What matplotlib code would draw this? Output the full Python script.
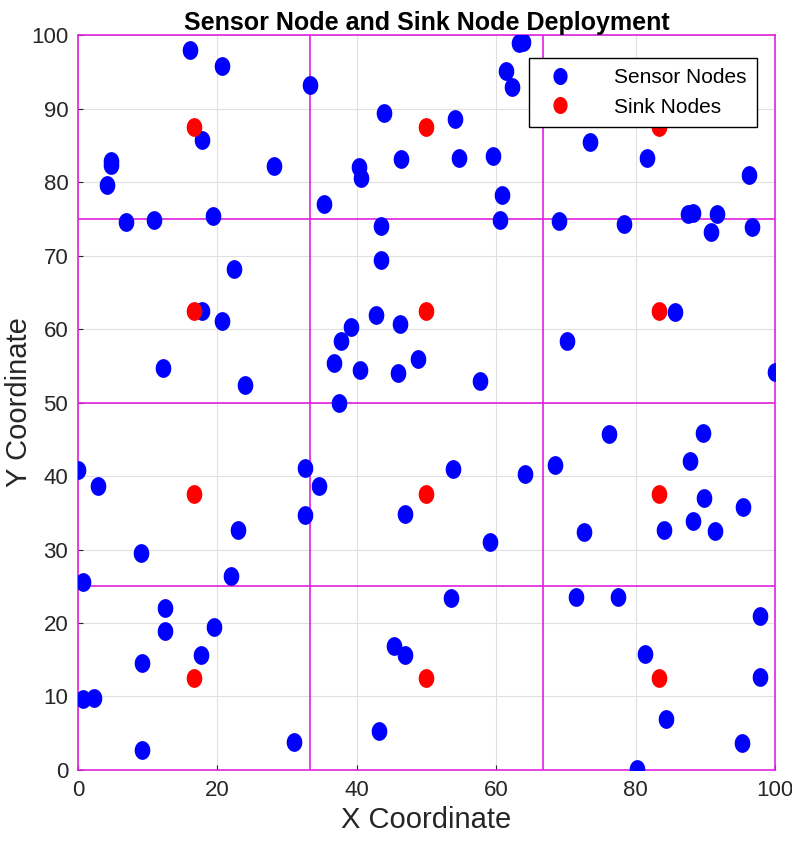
import matplotlib
matplotlib.use("Agg")
import matplotlib.pyplot as plt
import numpy as np

sensor_x = [16.1,20.7,33.3,4.2,4.7,4.7,17.8,6.9,10.9,19.4,28.1,35.3,40.3,40.6,43.9,46.3,43.5,43.5,54.1,54.7,59.6,60.8,61.4,62.3,63.3,63.9,60.5,73.5,69.0,78.3,81.6,87.5,88.2,91.7,90.8,96.3,96.7,
            22.4,17.8,20.7,12.2,24.0,39.2,37.7,36.7,37.5,42.8,40.5,46.2,45.9,48.8,57.7,70.2,85.7,100.0,
            0.0,2.9,0.7,9.0,32.6,34.6,32.6,23.0,21.9,46.9,53.8,59.1,64.1,68.4,76.2,72.6,87.8,89.7,89.8,88.2,84.1,91.4,95.4,
            12.5,12.5,19.5,17.7,9.2,0.7,2.3,9.2,31.0,53.5,45.3,46.9,43.2,71.4,77.5,81.3,84.4,80.2,95.3,97.9,97.8]
sensor_y = [98.0,95.8,93.2,79.6,82.9,82.3,85.7,74.6,74.8,75.4,82.2,77.0,82.0,80.5,89.4,83.1,74.0,69.4,88.6,83.3,83.5,78.2,95.1,92.9,98.9,99.0,74.8,85.4,74.7,74.3,83.3,75.6,75.8,75.6,73.2,81.0,73.9,
            68.2,62.4,61.1,54.7,52.4,60.3,58.4,55.4,49.9,61.9,54.4,60.7,54.0,55.9,52.9,58.4,62.3,54.1,
            40.8,38.6,25.6,29.5,41.1,38.6,34.7,32.7,26.4,34.8,41.0,31.0,40.3,41.5,45.7,32.4,42.0,45.9,37.0,33.9,32.7,32.5,35.8,
            22.0,18.9,19.5,15.6,14.6,9.7,9.8,2.7,3.8,23.4,16.9,15.6,5.3,23.5,23.5,15.8,6.9,0.1,3.7,21.0,12.7]
sink_x = [16.67,16.67,16.67,16.67,50,50,50,50,83.33,83.33,83.33,83.33]
sink_y = [12.5,37.5,62.5,87.5]*3
cell_x = [33.33,66.67]
cell_y = [25,50,75]

plt.rcParams['font.family'] = ['Liberation Sans Narrow', 'Liberation Sans', 'DejaVu Sans']
t = np.linspace(0, 2*np.pi, 40)
ell = list(zip(0.82*np.cos(t), np.sin(t)))

fig = plt.figure(figsize=(7.92,8.56), dpi=100)
ax = fig.add_axes([0.0985,0.1005,0.88,0.8585])
ax.grid(True, color='#e0e0e0', linewidth=0.8)
ax.set_axisbelow(True)
ax.plot(sensor_x, sensor_y, marker=ell, linestyle='none', color='#0000ff', markersize=12.5, label='Sensor Nodes', zorder=3)
ax.plot(sink_x, sink_y, marker=ell, linestyle='none', color='#ff0000', markersize=12.5, label='Sink Nodes', zorder=3)
for v in cell_x:
    ax.axvline(v, color='#e020e0', linewidth=1.2, zorder=2)
for v in cell_y:
    ax.axhline(v, color='#e020e0', linewidth=1.2, zorder=2)
for s in ax.spines.values():
    s.set_color('#e020e0'); s.set_linewidth(1.2)
ax.set_xlim(0,100); ax.set_ylim(0,100)
ax.set_xticks(range(0,101,20)); ax.set_yticks(range(0,101,10))
ax.tick_params(labelsize=16, colors='#262626', direction='in', pad=7)
ax.set_xlabel('X Coordinate', fontsize=21, color='#262626', labelpad=4)
ax.set_ylabel('Y Coordinate', fontsize=21, color='#262626')
ax.yaxis.set_label_coords(-0.065, 0.5)
ax.set_title('Sensor Node and Sink Node Deployment', fontsize=18, fontweight='bold', pad=3)
leg = ax.legend(loc='upper right', bbox_to_anchor=(0.974, 0.969), fontsize=15, framealpha=1,
                edgecolor='black', fancybox=False, borderpad=0.5, labelspacing=0.5,
                handletextpad=1.6, markerscale=0.9, borderaxespad=0)
leg.get_frame().set_linewidth(1.0)
leg.set_zorder(5)
fig.savefig('out.png', dpi=100)
